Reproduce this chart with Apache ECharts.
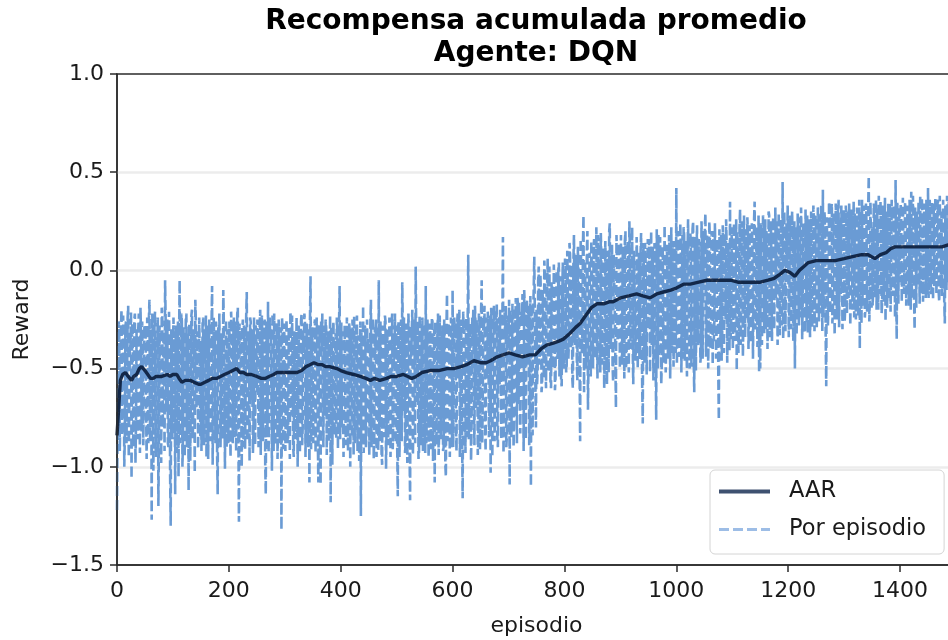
<!DOCTYPE html>
<html>
<head>
<meta charset="utf-8">
<script src="https://cdn.jsdelivr.net/npm/echarts@6/dist/echarts.min.js"></script>
<style>
  html, body { margin: 0; padding: 0; background: #fff; }
  #chart { width: 948px; height: 640px; }
</style>
</head>
<body>
<div id="chart"></div>
<script>
// ---- Text ----
const titleLines = ['Recompensa acumulada promedio', 'Agente: DQN'];
const xName = 'episodio';
const yName = 'Reward';
const aarName = 'AAR';
const episodeName = 'Por episodio';

// ---- Axis ticks ----
const xTicks = [0, 200, 400, 600, 800, 1000, 1200, 1400];
const xLimit = 1500;
const yTicks = [-1.5, -1.0, -0.5, 0.0, 0.5, 1.0];

// ---- Reward per episode (episodes 0..1499, 50 episodes per row) ----
const rewardPerEpisode = [
  -1.22,-0.75,-0.45,-0.26,-0.30,-0.92,-0.72,-0.31,-0.20,-0.84,-0.62,-0.23,-0.38,-1.00,-0.85,-0.29,-0.26,-0.88,-0.55,-0.24,-0.18,-0.95,-0.70,-0.34,-0.40,
  -0.21,-1.06,-0.27,-0.33,-0.90,-0.60,-0.25,-0.22,-0.98,-0.78,-0.30,-0.48,-0.86,-0.30,-0.22,-0.66,-0.93,-0.19,-0.35,-0.82,-0.26,-0.42,-0.89,-0.58,-0.28,
  -0.35,-0.28,-0.70,-0.96,-0.24,-0.33,-0.88,-0.25,-0.15,-0.87,-0.62,-0.30,-1.27,-0.22,-0.30,-1.02,-0.55,-0.27,-0.21,-0.90,-0.95,-0.36,-0.40,-0.24,-1.20,
  -0.84,-0.28,-0.29,-0.66,-0.98,-0.19,-0.23,-0.80,-0.31,-0.36,-0.92,-0.05,-0.26,-0.72,-0.35,-0.25,-0.88,-0.90,-0.21,-0.45,-1.05,-1.30,-0.30,-0.32,-0.86,
  -0.42,-0.24,-0.78,-0.31,-1.14,-0.28,-0.30,-0.93,-0.60,-0.26,-1.05,-0.33,-0.05,-0.88,-0.68,-0.22,-0.26,-1.00,-0.85,-0.29,-0.38,-0.95,-0.57,-0.25,-0.22,
  -0.90,-0.75,-0.32,-1.12,-0.27,-0.34,-0.97,-0.62,-0.23,-0.20,-0.86,-0.80,-0.30,-0.44,-1.03,-0.15,-0.26,-0.70,-0.34,-0.31,-0.91,-0.92,-0.24,-0.48,-0.85,
  -0.36,-0.92,-0.66,-0.27,-0.24,-0.89,-0.82,-0.30,-0.45,-0.23,-0.95,-0.31,-0.28,-0.96,-0.58,-0.25,-0.38,-0.87,-0.74,-0.28,-0.08,-0.99,-0.62,-0.24,-0.40,
  -0.33,-0.88,-0.26,-0.32,-0.94,-1.14,-0.29,-0.50,-0.22,-0.22,-0.90,-0.70,-0.32,-0.35,-0.86,-0.10,-0.27,-0.64,-1.01,-0.45,-0.25,-0.90,-0.30,-0.46,-0.88,
  -0.40,-0.26,-0.72,-0.95,-0.21,-0.30,-0.60,-0.88,-0.33,-0.24,-0.85,-0.29,-0.26,-0.92,-0.52,-0.22,-0.19,-0.84,-1.28,-0.27,-0.44,-0.33,-0.68,-1.00,-0.30,
  -0.25,-0.90,-0.28,-0.36,-0.91,-0.58,-0.23,-0.11,-0.87,-0.75,-0.31,-0.40,-0.97,-0.24,-0.26,-0.66,-0.30,-0.31,-0.93,-0.82,-0.24,-0.45,-0.89,-0.28,-0.32,
  -0.62,-0.25,-0.30,-0.90,-0.78,-0.28,-0.20,-0.94,-0.55,-0.23,-0.38,-0.87,-0.86,-0.31,-0.25,-0.99,-1.14,-0.26,-0.44,-0.85,-0.16,-0.93,-0.70,-0.24,-0.34,
  -0.30,-0.60,-1.02,-0.22,-0.27,-0.92,-0.22,-0.41,-0.89,-0.68,-0.33,-0.27,-0.96,-0.80,-0.25,-0.36,-0.88,-0.55,-0.29,-1.32,-0.24,-0.30,-0.91,-0.64,-0.27,
  -0.28,-0.92,-0.66,-0.25,-0.40,-0.88,-0.85,-0.29,-0.33,-0.96,-0.21,-0.27,-0.74,-0.23,-0.46,-0.90,-0.95,-0.31,-0.30,-0.86,-0.58,-0.24,-0.24,-1.00,-0.70,
  -0.28,-0.37,-0.93,-0.52,-0.26,-0.22,-0.89,-0.80,-0.32,-0.42,-0.22,-0.26,-0.95,-0.64,-0.27,-0.35,-0.84,-0.90,-0.30,-1.08,-0.25,-0.03,-0.91,-0.48,-0.29,
  -0.30,-0.88,-0.62,-0.27,-0.25,-0.93,-0.50,-0.24,-0.36,-0.85,-1.08,-0.30,-0.28,-0.97,-1.09,-0.26,-0.40,-0.22,-0.66,-0.90,-0.32,-0.28,-0.74,-0.25,-0.29,
  -0.94,-0.55,-0.31,-0.34,-0.87,-0.62,-0.23,-1.18,-0.29,-0.42,-0.99,-0.31,-0.26,-0.60,-0.84,-0.38,-0.32,-0.86,-0.24,-0.33,-0.91,-0.52,-0.27,-0.08,-0.86,
  -0.45,-0.26,-0.80,-0.31,-0.32,-0.95,-0.62,-0.28,-0.28,-0.89,-0.90,-0.24,-0.40,-0.92,-0.68,-0.27,-0.30,-1.00,-0.55,-0.30,-0.85,-0.25,-0.36,-0.94,-0.23,
  -0.88,-0.72,-0.29,-0.44,-0.23,-0.92,-0.33,-0.34,-0.97,-0.60,-0.26,-1.25,-0.30,-0.38,-0.86,-0.18,-0.93,-0.66,-0.28,-0.30,-0.90,-0.82,-0.25,-0.42,-0.35,
  -0.38,-0.94,-0.70,-0.27,-0.15,-0.90,-0.62,-0.24,-0.30,-0.96,-0.84,-0.29,-0.42,-0.25,-0.95,-0.31,-0.35,-0.92,-0.05,-0.87,-0.66,-0.26,-0.48,-0.93,-0.99,
  -0.28,-0.32,-0.85,-0.58,-0.23,-0.26,-1.01,-0.78,-0.30,-0.40,-0.89,-0.90,-0.24,-0.36,-0.95,-0.62,-0.27,-0.22,-0.91,-0.74,-0.32,-0.45,-0.22,-0.88,-0.28,
  -0.40,-0.91,-1.15,-0.26,-0.30,-0.95,-0.66,-0.29,-0.25,-0.87,-0.06,-0.30,-0.72,-0.24,-0.38,-0.93,-0.88,-0.27,-0.28,-0.98,-0.60,-0.22,-0.34,-0.90,-1.17,
  -0.28,-0.44,-0.31,-0.20,-0.94,-0.76,-0.25,-0.36,-0.88, 0.02,-0.33,-0.68,-0.26,-0.30,-0.96,-0.92,-0.23,-0.42,-0.89,-0.58,-0.30,-0.24,-0.92,-0.80,-0.27,
  -0.36,-0.93,-0.08,-0.88,-0.70,-0.25,-0.42,-0.95,-0.85,-0.27,-0.30,-0.91,-0.62,-0.24,-0.26,-0.97,-0.75,-0.30,-1.08,-0.26,-0.38,-0.89,-0.55,-0.28,-0.22,
  -0.94,-0.82,-0.23,-0.44,-0.86,-0.66,-0.31,-0.28,-0.92,-0.90,-0.25,-0.35,-0.99,-1.05,-0.29,-0.12,-0.87,-0.60,-0.27,-0.32,-0.95,-0.72,-0.24,-0.40,-0.90,
  -0.10,-0.90,-0.66,-0.24,-0.34,-0.27,-0.80,-0.92,-0.28,-0.22,-0.55,-0.28,-0.20,-0.95,-0.72,-0.25,-0.40,-0.88,-1.16,-0.21,-0.32,-0.30,-0.60,-0.93,-0.24,
  -0.26,-0.85,-0.23, 0.08,-0.86,-0.50,-0.27,-0.30,-0.97,-0.76,-0.24,-0.38,-0.20,-0.62,-0.89,-0.18,-0.28,-0.70,-0.25,-0.35,-0.94,-0.88,-0.22,-0.26,-0.91,
  -0.40,-0.20,-0.05,-0.88,-0.62,-0.24,-0.30,-0.18,-0.78,-0.92,-0.24,-0.26,-0.55,-0.21,-0.36,-0.85,-0.70,-0.23,-1.03,-0.19,-0.28,-0.95,-0.50,-0.25,-0.18,
  -0.87,-0.66,-0.22,-0.32,-0.17,-0.86,-0.90,-0.26,-0.24,-0.58,-0.20,-0.40,-0.86,-0.22,-0.26, 0.17,-0.93,-0.72,-0.21,-0.34,-0.18,-0.90,-0.84,-0.30,-0.23,
  -0.36,-0.15,-1.09,-0.20,-0.28,-0.85,-0.60,-0.17,-0.20,-0.90,-0.74,-0.22,-0.32,-0.14,-0.52,-0.88,-0.14,-0.19,-0.68,-0.16,-0.38,-0.83,-0.82,-0.21,-0.25,
  -0.12,-0.56,-0.92,-0.10,-0.18,-0.64,-0.86,-0.30,-0.15,-0.48,-0.20,-0.18,-0.89,-0.76,-0.13,-1.10,-0.17,-0.34,-0.84,-0.22,-0.10, 0.07,-0.22,-0.58,-0.80,
  -0.20,-0.58,-0.52,-0.05, 0.02,-0.48,-0.40,-0.02,-0.15,-0.62,-0.58,-0.10,-0.26,-0.55, 0.05,-0.04,-0.45,-0.60,-0.12,-0.08, 0.06,-0.52,-0.50, 0.02,-0.30,
  -0.57,-0.60,-0.06,-0.08,-0.50,-0.38, 0.03,-0.18,-0.61,-0.55,-0.09, 0.00,-0.45,-0.42, 0.00, 0.04,-0.54,-0.28,-0.03,-0.56,-0.59,-0.14, 0.04,-0.46,-0.50,
  -0.30, 0.06, 0.02,-0.52,-0.48, 0.10,-0.10,-0.45,-0.36, 0.14, 0.08,-0.40,-0.22, 0.03,-0.55,-0.60, 0.05, 0.18,-0.28,-0.38,-0.05, 0.08,-0.44,-0.56, 0.12,
   0.02,-0.18,-0.48,-0.87, 0.16, 0.00,-0.42,-0.32, 0.12, 0.28,-0.62,-0.14, 0.05,-0.50,-0.36, 0.10, 0.20,-0.71,-0.46,-0.06, 0.09,-0.40,-0.54, 0.15,-0.02,
  -0.20,-0.50, 0.10, 0.16,-0.45,-0.42,-0.08, 0.22,-0.32,-0.55, 0.18, 0.12,-0.15,-0.38,-0.52, 0.19, 0.04,-0.48,-0.26, 0.06, 0.12,-0.60,-0.40, 0.15,-0.02,
  -0.44,-0.58, 0.10,-0.12,-0.52, 0.20, 0.24,-0.35,-0.40,-0.05, 0.13,-0.48,-0.57, 0.08, 0.07,-0.22,-0.46,-0.70, 0.18, 0.02,-0.36,-0.30, 0.11, 0.14,-0.50,
  -0.10, 0.18,-0.42,-0.48, 0.06, 0.12,-0.25,-0.55, 0.15, 0.20,-0.50,-0.44,-0.16, 0.15, 0.02,-0.52, 0.25, 0.08,-0.34,-0.40,-0.06, 0.22,-0.40,-0.58, 0.10,
   0.11,-0.20,-0.46,-0.38, 0.17, 0.04,-0.50,-0.12, 0.09,-0.45,-0.42, 0.08, 0.19,-0.28,-0.60,-0.78, 0.14,-0.02,-0.47, 0.14, 0.06,-0.36,-0.53,-0.08, 0.16,
  -0.30, 0.16, 0.05,-0.52,-0.18, 0.20,-0.38, 0.10, 0.12,-0.56,-0.08, 0.14,-0.40,-0.46,-0.76, 0.21, 0.00,-0.50, 0.18,-0.44,-0.26, 0.17,-0.10,-0.58,-0.48,
   0.12, 0.08,-0.47,-0.20, 0.23, 0.22,-0.52,-0.34, 0.13,-0.05,-0.45,-0.40, 0.18, 0.10,-0.55,-0.14, 0.22,-0.42, 0.08, 0.15,-0.49,-0.24, 0.15, 0.02,-0.42,
   0.42,-0.48,-0.20, 0.20, 0.05,-0.44,-0.38, 0.24, 0.12,-0.52,-0.10, 0.18,-0.45, 0.22, 0.18,-0.46,-0.02, 0.15,-0.30,-0.54, 0.08, 0.26,-0.16,-0.40,-0.50,
   0.19, 0.14,-0.49,-0.08, 0.21, 0.25,-0.43,-0.62, 0.17,-0.12,-0.51, 0.06, 0.23,-0.35,-0.38, 0.16, 0.12,-0.05,-0.47,-0.42, 0.25, 0.10,-0.45,-0.22, 0.20,
  -0.10, 0.22, 0.29,-0.44,-0.30, 0.18, 0.04,-0.50,-0.18, 0.25, 0.15,-0.40,-0.22, 0.20,-0.05,-0.48, 0.20,-0.36,-0.26, 0.24, 0.02,-0.45,-0.30, 0.16, 0.10,
  -0.52,-0.76, 0.21,-0.08,-0.38, 0.18,-0.46,-0.32, 0.23, 0.06,-0.42,-0.14, 0.19,-0.25, 0.26, 0.12,-0.47,-0.20, 0.14, 0.00,-0.41, 0.35,-0.35,-0.28, 0.22,
   0.05,-0.40,-0.22, 0.24, 0.14,-0.36,-0.10, 0.26,-0.51, 0.20, 0.08,-0.42,-0.30, 0.22, 0.31,-0.38,-0.15, 0.25, 0.02,-0.44,-0.22, 0.28, 0.10,-0.34,-0.06,
   0.21,-0.25, 0.27, 0.18,-0.40,-0.20, 0.23, 0.04,-0.37,-0.34, 0.24, 0.12,-0.45,-0.12, 0.26, 0.35,-0.30,-0.28, 0.22, 0.00,-0.39,-0.18, 0.28,-0.52, 0.18,
  -0.50, 0.24, 0.10,-0.38,-0.16, 0.28, 0.22,-0.32,-0.05, 0.26,-0.30, 0.20, 0.15,-0.40,-0.10, 0.30, 0.28,-0.34,-0.22, 0.25, 0.06,-0.36,-0.36, 0.27, 0.18,
  -0.30, 0.00, 0.32,-0.14, 0.22, 0.25,-0.38,-0.26, 0.29, 0.08,-0.33,-0.08, 0.26, 0.20,-0.28, 0.45,-0.35,-0.18, 0.30, 0.12,-0.31,-0.30, 0.24, 0.04, 0.33,
   0.10,-0.34,-0.20, 0.28, 0.26,-0.30,-0.04, 0.30, 0.14,-0.36,-0.28, 0.25,-0.50, 0.22, 0.18,-0.33,-0.10, 0.29, 0.30,-0.28, 0.02, 0.27,-0.24, 0.32, 0.12,
  -0.35,-0.14, 0.24, 0.22,-0.30,-0.32, 0.31, 0.06,-0.27, 0.28,-0.32,-0.08, 0.26, 0.16,-0.34,-0.20, 0.30, 0.08,-0.29,-0.02, 0.33, 0.24,-0.31,-0.16, 0.28,
   0.20,-0.30,-0.12, 0.32, 0.30,-0.26, 0.02, 0.28,-0.22, 0.33, 0.14,-0.31, 0.41,-0.24,-0.06, 0.30, 0.18,-0.34,-0.59, 0.27, 0.08,-0.28,-0.16, 0.35, 0.26,
  -0.22,-0.02, 0.31, 0.34,-0.27,-0.20, 0.29, 0.10,-0.33,-0.08, 0.34, 0.22,-0.25,-0.26, 0.30, 0.36,-0.29, 0.04, 0.26,-0.12, 0.33, 0.16,-0.30,-0.04, 0.31,
   0.12,-0.26,-0.18, 0.33, 0.28,-0.22, 0.00, 0.30,-0.14, 0.34, 0.20,-0.28,-0.06, 0.31, 0.32,-0.20, 0.06, 0.35,-0.24, 0.29, 0.16,-0.25,-0.12, 0.32, 0.26,
  -0.23,-0.02, 0.36,-0.40, 0.30, 0.14,-0.27, 0.36,-0.18,-0.10, 0.33, 0.08,-0.24,-0.20, 0.34, 0.24,-0.21, 0.02, 0.31, 0.48,-0.26,-0.14, 0.35, 0.18,-0.19,
   0.22,-0.18,-0.08, 0.34, 0.30,-0.14, 0.06, 0.36,-0.20, 0.32, 0.18,-0.20, 0.38,-0.12,-0.04, 0.35, 0.14,-0.22,-0.16, 0.33, 0.28,-0.16, 0.04, 0.37,-0.26,
   0.30, 0.20,-0.19, 0.10, 0.34,-0.10,-0.15, 0.34,-0.21, 0.00, 0.36, 0.24,-0.13,-0.14, 0.33, 0.16,-0.24, 0.46,-0.10,-0.35, 0.35, 0.12,-0.17, 0.26, 0.32,
  -0.06, 0.34, 0.28,-0.16, 0.10, 0.37, 0.36,-0.12,-0.12, 0.35, 0.20,-0.18, 0.02, 0.33, 0.32,-0.10,-0.18, 0.36, 0.16,-0.20, 0.40,-0.14, 0.06, 0.38, 0.24,
  -0.15,-0.30, 0.32, 0.12,-0.19, 0.30,-0.08,-0.04, 0.35, 0.18,-0.17, 0.38,-0.12,-0.10, 0.37, 0.22,-0.16, 0.08, 0.34, 0.34,-0.11,-0.14, 0.36, 0.14,-0.13,
   0.42,-0.14, 0.04, 0.36, 0.26,-0.10,-0.12, 0.35, 0.18,-0.15, 0.34,-0.08,-0.02, 0.37, 0.22,-0.12, 0.08, 0.34, 0.36,-0.11,-0.16, 0.38, 0.14,-0.09, 0.30,
  -0.13, 0.00, 0.36, 0.20,-0.16,-0.27, 0.33, 0.16,-0.10, 0.38,-0.06, 0.06, 0.35, 0.24,-0.12,-0.08, 0.37, 0.28,-0.14, 0.10, 0.34, 0.32,-0.08,-0.04, 0.36
];

// ---- Average accumulated reward: [episode, value] ----
const aarPoints = [
  [0,-0.84],[3,-0.70],[6,-0.56],[10,-0.53],[15,-0.52],[20,-0.54],[26,-0.56],[30,-0.54],[35,-0.53],[40,-0.50],
  [44,-0.49],[50,-0.51],[55,-0.53],[60,-0.55],[65,-0.55],[70,-0.54],[75,-0.54],[80,-0.54],[90,-0.53],[95,-0.54],
  [100,-0.53],[107,-0.53],[111,-0.55],[116,-0.57],[122,-0.56],[131,-0.56],[138,-0.57],[146,-0.58],[150,-0.58],[157,-0.57],
  [164,-0.56],[170,-0.55],[178,-0.55],[185,-0.54],[192,-0.53],[200,-0.52],[207,-0.51],[214,-0.50],[220,-0.52],[226,-0.52],
  [232,-0.53],[240,-0.53],[250,-0.54],[258,-0.55],[265,-0.55],[272,-0.54],[280,-0.53],[286,-0.52],[295,-0.52],[305,-0.52],
  [315,-0.52],[322,-0.52],[330,-0.51],[338,-0.49],[345,-0.48],[352,-0.47],[360,-0.48],[367,-0.48],[373,-0.49],[380,-0.49],
  [393,-0.50],[400,-0.51],[410,-0.52],[423,-0.53],[435,-0.54],[445,-0.55],[453,-0.56],[460,-0.55],[470,-0.56],[482,-0.55],
  [490,-0.54],[500,-0.54],[512,-0.53],[520,-0.54],[527,-0.55],[535,-0.54],[545,-0.52],[560,-0.51],[575,-0.51],[590,-0.50],
  [602,-0.50],[615,-0.49],[625,-0.48],[638,-0.46],[650,-0.47],[660,-0.47],[668,-0.46],[680,-0.44],[690,-0.43],[701,-0.42],
  [712,-0.43],[725,-0.44],[738,-0.43],[748,-0.43],[758,-0.40],[768,-0.38],[780,-0.37],[790,-0.36],[798,-0.35],[810,-0.32],
  [820,-0.29],[828,-0.27],[838,-0.23],[848,-0.19],[858,-0.17],[870,-0.17],[880,-0.16],[887,-0.16],[900,-0.14],[915,-0.13],
  [929,-0.12],[940,-0.13],[953,-0.14],[965,-0.12],[977,-0.11],[990,-0.10],[1000,-0.09],[1013,-0.07],[1025,-0.07],[1040,-0.06],
  [1055,-0.05],[1070,-0.05],[1085,-0.05],[1097,-0.05],[1110,-0.06],[1124,-0.06],[1135,-0.06],[1150,-0.06],[1164,-0.05],[1175,-0.04],
  [1185,-0.02],[1194,0.00],[1203,-0.01],[1212,-0.03],[1220,0.00],[1228,0.02],[1236,0.04],[1250,0.05],[1265,0.05],[1284,0.05],
  [1300,0.06],[1315,0.07],[1331,0.08],[1343,0.08],[1355,0.06],[1365,0.08],[1375,0.09],[1383,0.11],[1391,0.12],[1405,0.12],
  [1420,0.12],[1433,0.12],[1448,0.12],[1463,0.12],[1475,0.12],[1486,0.13],[1499,0.13]
];

// ---- Chart ----
const FONT = 'DejaVu Sans';
const INK = '#1a1a1a';
const SPINE = '#2b2b2b';
const minusFmt = v => (v < 0 ? '\u2212' : '') + Math.abs(v).toFixed(1);
const perEpisode = rewardPerEpisode.map((v, i) => [i, v]);

const chart = echarts.init(document.getElementById('chart'), null, { renderer: 'canvas', width: 948, height: 640 });

const yCommon = {
  type: 'value',
  min: yTicks[0],
  max: yTicks[yTicks.length - 1],
  interval: yTicks[1] - yTicks[0]
};

chart.setOption({
  animation: false,
  backgroundColor: '#ffffff',
  title: {
    text: titleLines.join('\n'),
    left: 536,
    top: 6,
    textAlign: 'center',
    padding: 0,
    textStyle: { fontFamily: FONT, fontWeight: 'bold', fontSize: 28, lineHeight: 32, color: '#000' }
  },
  grid: {
    left: 117, right: -8, top: 74, bottom: 75,
    show: true, borderColor: SPINE, borderWidth: 1.5,
    containLabel: false, outerBoundsMode: 'none'
  },
  legend: {
    data: [
      { name: aarName, itemStyle: { opacity: 0 }, lineStyle: { color: '#3e5170', width: 4 } },
      { name: episodeName, itemStyle: { opacity: 0 }, lineStyle: { color: '#9dbde6', width: 3, type: [10, 4] } }
    ],
    orient: 'vertical',
    left: 710, top: 470,
    itemWidth: 51, itemHeight: 22, itemGap: 15,
    padding: [10, 18, 13, 7],
    backgroundColor: 'rgba(255,255,255,0.8)',
    borderColor: '#d4d4d4', borderWidth: 1, borderRadius: 5,
    textStyle: { fontFamily: FONT, fontSize: 22.5, color: INK, padding: [0, 0, 0, 14] }
  },
  xAxis: {
    type: 'value',
    min: xTicks[0], max: xLimit, interval: xTicks[1] - xTicks[0],
    z: 10,
    axisLine: { show: true, onZero: false, lineStyle: { color: SPINE, width: 1.5 } },
    axisTick: { show: true, length: 7, lineStyle: { color: SPINE, width: 1.5 } },
    axisLabel: { margin: 15, fontSize: 22, color: INK, fontFamily: FONT, showMaxLabel: false, formatter: v => String(v) },
    splitLine: { show: false },
    name: xName, nameLocation: 'middle', nameGap: 50,
    nameTextStyle: { fontFamily: FONT, fontSize: 22, color: INK }
  },
  yAxis: [
    Object.assign({}, yCommon, {
      axisLine: { show: false }, axisTick: { show: false }, axisLabel: { show: false },
      splitLine: { show: true, showMinLine: false, showMaxLine: false, lineStyle: { color: '#ececec', width: 2.5 } }
    }),
    Object.assign({}, yCommon, {
      position: 'left', z: 10,
      axisLine: { show: true, onZero: false, lineStyle: { color: SPINE, width: 1.5 } },
      axisTick: { show: true, length: 7, lineStyle: { color: SPINE, width: 1.5 } },
      axisLabel: { margin: 13, fontSize: 22, color: INK, fontFamily: FONT, formatter: minusFmt },
      splitLine: { show: false },
      name: yName, nameLocation: 'middle', nameGap: 84, nameRotate: 90,
      nameTextStyle: { fontFamily: FONT, fontSize: 22, color: INK }
    })
  ],
  series: [
    {
      name: episodeName, type: 'line', xAxisIndex: 0, yAxisIndex: 0,
      data: perEpisode, symbol: 'none', silent: true, z: 2, sampling: null,
      itemStyle: { color: '#6a9bd4' },
      lineStyle: { color: '#6a9bd4', width: 2.6, type: [10, 4] }
    },
    {
      name: aarName, type: 'line', xAxisIndex: 0, yAxisIndex: 0,
      data: aarPoints, symbol: 'none', silent: true, z: 3,
      itemStyle: { color: '#14284a' },
      lineStyle: { color: 'rgba(10,28,58,0.9)', width: 3.4 }
    }
  ]
});
</script>
</body>
</html>
